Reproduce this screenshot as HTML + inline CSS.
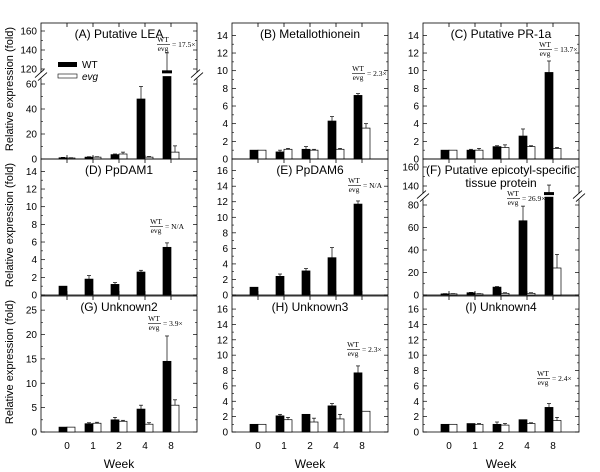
<!DOCTYPE html>
<html><head><meta charset="utf-8"><style>
body{margin:0;background:#fff}
svg{display:block;font-family:"Liberation Sans",Arial,sans-serif}
</style></head><body>
<svg id="c" width="600" height="472" viewBox="0 0 600 472"></svg>
<script>
const weeks = ["0","1","2","4","8"];
const panelTitles = ["(A) Putative LEA","(B) Metallothionein","(C) Putative PR-1a","(D) PpDAM1","(E) PpDAM6","(F) Putative epicotyl-specific|tissue protein","(G) Unknown2","(H) Unknown3","(I) Unknown4"];
const ratioLabels = ["17.5","2.3","13.7","N/A","N/A","26.9","3.9","2.3","2.4"];
const wtA=[1,1.5,3.5,48,117], wtAErr=[0.3,0.3,0.5,10,20], evgA=[0.8,1.5,4,1.5,5.5], evgAErr=[0.2,0.3,1.5,0.5,5];
const wtB=[1,0.8,1.1,4.3,7.2], wtBErr=[0,0.2,0.3,0.5,0.2], evgB=[1,1.1,1.0,1.1,3.5], evgBErr=[0,0.1,0.1,0.1,0.5];
const wtC=[1,1,1.4,2.6,9.8], wtCErr=[0,0.1,0.1,0.8,1.3], evgC=[1,1,1.3,1.4,1.2], evgCErr=[0,0.2,0.3,0.1,0.1];
const wtD=[1,1.8,1.2,2.6,5.4], wtDErr=[0,0.4,0.2,0.2,0.5];
const wtE=[1,2.4,3.1,4.8,11.7], wtEErr=[0,0.3,0.3,1.3,0.4];
const wtF=[1,2,7,66,132], wtFErr=[0.2,0.3,0.5,13,9], evgF=[1,1,1.5,1.5,24], evgFErr=[0.2,0.2,0.5,0.5,12];
const wtG=[1,1.7,2.5,4.7,14.5], wtGErr=[0,0.2,0.5,0.8,5.2], evgG=[1,1.8,2.2,1.6,5.5], evgGErr=[0,0.2,0.2,0.3,1.1];
const wtH=[1,2.1,2.3,3.4,7.7], wtHErr=[0,0.2,0,0.3,0.9], evgH=[1,1.6,1.3,1.7,2.7], evgHErr=[0,0.3,0.5,0.6,0];
const wtI=[1,1.1,1,1.6,3.2], wtIErr=[0,0,0.3,0,0.5], evgI=[1,1,0.9,1.1,1.5], evgIErr=[0,0.1,0.2,0.1,0.4];
const ticksA=[0,20,40,60,120,140,160], ticks14=[0,2,4,6,8,10,12,14], ticks16=[0,2,4,6,8,10,12,14,16], ticksF=[0,20,40,60,80,140,160], ticks25=[0,5,10,15,20,25];

const NS="http://www.w3.org/2000/svg", svg=document.getElementById('c');
function el(t,a,p){const e=document.createElementNS(NS,t);for(const k in a)e.setAttribute(k,a[k]);(p||svg).appendChild(e);return e;}
const colX=[41,232,423], rowY=[23,159,296], W=156, H=136;
const panels=[
 {wt:wtA,we:wtAErr,ev:evgA,ee:evgAErr,ticks:ticksA,brk:{lo:66,hi:114,loMax:60,loPx:75,hiPx:19,hiStart:120},ann:[157,42]},
 {wt:wtB,we:wtBErr,ev:evgB,ee:evgBErr,ticks:ticks14,max:15.4,ann:[352,71]},
 {wt:wtC,we:wtCErr,ev:evgC,ee:evgCErr,ticks:ticks14,max:15.4,ann:[539,47]},
 {wt:wtD,we:wtDErr,ev:null,ticks:ticks14,max:15.4,ann:[150,224]},
 {wt:wtE,we:wtEErr,ev:null,ticks:ticks16,max:17.5,ann:[348,183]},
 {wt:wtF,we:wtFErr,ev:evgF,ee:evgFErr,ticks:ticksF,brk:{lo:87,hi:129.5,loMax:80,loPx:90,hiPx:19,hiStart:140},ann:[507,196]},
 {wt:wtG,we:wtGErr,ev:evgG,ee:evgGErr,ticks:ticks25,max:27.9,ann:[148,321]},
 {wt:wtH,we:wtHErr,ev:evgH,ee:evgHErr,ticks:ticks16,max:17.7,ann:[347,347]},
 {wt:wtI,we:wtIErr,ev:evgI,ee:evgIErr,ticks:ticks16,max:17.7,ann:[537,376]}
];
panels.forEach((p,i)=>{
  const x0=colX[i%3], y0=rowY[Math.floor(i/3)], yb=y0+H;
  let y;
  if(p.brk){const b=p.brk;
    const pxLo=b.loPx/b.loMax, pxHi=b.hiPx/20;
    y=v=> v<=b.lo? yb-v*pxLo : (yb-128)+(160-v)*pxHi;
    p.yBreak=(y(b.lo)+y(b.hi))/2;
  } else { y=v=>yb-v*(H/p.max); }
  const g=el('g',{});  
  el('rect',{x:x0,y:y0,width:W,height:H,fill:'none',stroke:'#000','stroke-width':0.8},g);
  const xc=k=>x0+26*(k+1);
  weeks.forEach((w,k)=>{el('line',{x1:xc(k),x2:xc(k),y1:y0,y2:y0+4,stroke:'#000','stroke-width':0.8},g);el('line',{x1:xc(k),x2:xc(k),y1:yb,y2:yb-4,stroke:'#000','stroke-width':0.8},g);});
  p.ticks.forEach((t,k)=>{const yy=y(t);
    el('line',{x1:x0,x2:x0+4,y1:yy,y2:yy,stroke:'#000','stroke-width':0.7},g);
    el('line',{x1:x0+W,x2:x0+W-4,y1:yy,y2:yy,stroke:'#000','stroke-width':0.7},g);
    const lb=el('text',{x:x0-4,y:yy+3.5,'font-size':10,'text-anchor':'end'},g);lb.textContent=t;
    
    if(k<p.ticks.length-1){const n=p.ticks[k+1];if(!(p.brk&&t===p.brk.loMax)){const ym=y((t+n)/2);
      el('line',{x1:x0,x2:x0+2,y1:ym,y2:ym,stroke:'#000','stroke-width':0.6},g);el('line',{x1:x0+W,x2:x0+W-2,y1:ym,y2:ym,stroke:'#000','stroke-width':0.6},g);}}
  });
  if(p.brk){const yb2=p.yBreak;
    [x0,x0+W].forEach(xx=>{el('rect',{x:xx-6,y:yb2-3,width:12,height:6,fill:'#fff'},g);
      el('line',{x1:xx-6,y1:yb2+2,x2:xx+3,y2:yb2-6,stroke:'#000','stroke-width':0.8},g);
      el('line',{x1:xx-3,y1:yb2+5,x2:xx+6,y2:yb2-3,stroke:'#000','stroke-width':0.8},g);});
  }
  function bar(v,e,xl,fill,name){
    let top=y(v);
    if(p.brk&&v>p.brk.lo){
      const r=el('rect',{x:xl,y:y(p.brk.lo),width:8,height:yb-y(p.brk.lo),fill:fill,stroke:'#000','stroke-width':0.7},g);
      
      el('rect',{x:xl-1,y:top-1.5,width:10,height:3,fill:'#000'},g);
    } else {
      const r=el('rect',{x:xl,y:top,width:8,height:Math.max(yb-top,0),fill:fill,stroke:'#000','stroke-width':0.7},g);
      
    }
    if(e>0){const ye=y(v+e);el('line',{x1:xl+4,x2:xl+4,y1:top,y2:ye,stroke:'#000','stroke-width':0.7},g);el('line',{x1:xl+2,x2:xl+6,y1:ye,y2:ye,stroke:'#000','stroke-width':0.7},g);}
  }
  weeks.forEach((w,k)=>{bar(p.wt[k],p.we[k],xc(k)-8,'#000','bar-wt-week'+w);if(p.ev)bar(p.ev[k],p.ee[k],xc(k),'#fff','bar-evg-week'+w);});
  panelTitles[i].split('|').forEach((s,li)=>{const t=el('text',{x:x0+W/2,y:y0+15+li*13,'font-size':12,'text-anchor':'middle'},g);t.textContent=s;
    });
  const [ax,ay]=p.ann;
  const a=el('g',{'font-family':'"Liberation Serif",serif','font-size':7.5},g);
  
  let t=el('text',{x:ax+6,y:ay,'text-anchor':'middle'},a);t.textContent='WT';
  el('line',{x1:ax,x2:ax+13,y1:ay+2.5,y2:ay+2.5,stroke:'#000','stroke-width':0.6},a);
  t=el('text',{x:ax+6,y:ay+9,'text-anchor':'middle'},a);t.textContent='evg';
  t=el('text',{x:ax+15,y:ay+5},a);t.textContent='= '+ratioLabels[i]+(ratioLabels[i]==='N/A'?'':'×');
  if(i>=6){weeks.forEach((w,k)=>{const l=el('text',{x:xc(k),y:449,'font-size':10,'text-anchor':'middle'},g);l.textContent=w;
      });
    const wk=el('text',{x:x0+W/2,y:468,'font-size':12,'text-anchor':'middle'},g);wk.textContent='Week';
    }
  if(i%3===0){const cy=y0+H/2-2;const yt=el('text',{x:13,y:cy,'font-size':11,'text-anchor':'middle',transform:`rotate(-90 13 ${cy})`},g);
    yt.textContent='Relative expression (fold)';}
});
const lg=el('g',{});
el('rect',{x:58,y:62,width:19,height:5,fill:'#000'},lg);
let lt=el('text',{x:82,y:68,'font-size':10},lg);lt.textContent='WT';
el('rect',{x:58,y:74,width:19,height:4,fill:'#fff',stroke:'#000','stroke-width':0.6},lg);
lt=el('text',{x:82,y:80,'font-size':10,'font-style':'italic'},lg);lt.textContent='evg';
</script>
</body></html>
